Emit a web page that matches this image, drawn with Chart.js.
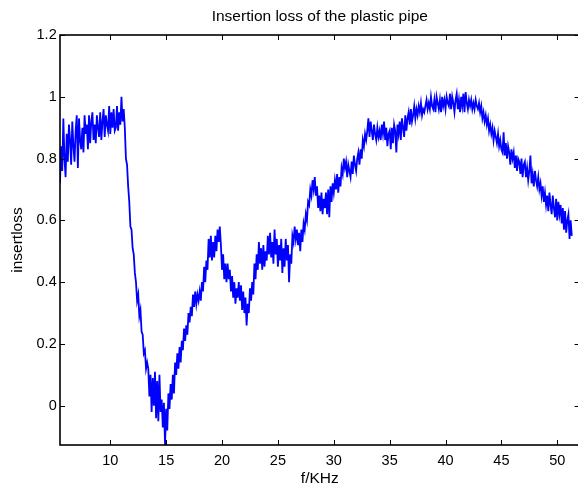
<!DOCTYPE html>
<html>
<head>
<meta charset="utf-8">
<title>Insertion loss of the plastic pipe</title>
<script src="https://cdn.jsdelivr.net/npm/chart.js@4/dist/chart.umd.min.js"></script>
<style>
    html, body { margin: 0; padding: 0; overflow: hidden; background: #fff; }
    #wrap { width: 582px; height: 488px; }
</style>
</head>
<body>
<div id="wrap"><canvas id="loss-chart"></canvas></div>
<script>
// sampled every 0.1 kHz starting at 5.5 kHz
const fStart = 5.5;
const fStep = 0.1;

const loss05to10 = [
    0.72, 0.84, 0.76, 0.93, 0.80, 0.74, 0.88, 0.79, 0.91, 0.86,
    0.78, 0.92, 0.84, 0.79, 0.89, 0.94, 0.77, 0.93, 0.86, 0.83,
    0.90, 0.82, 0.94, 0.88, 0.91, 0.83, 0.94, 0.85, 0.92, 0.95,
    0.86, 0.91, 0.85, 0.94, 0.90, 0.87, 0.95, 0.86, 0.92, 0.96,
    0.87, 0.94, 0.91, 0.89, 0.97, 0.88, 0.95, 0.90, 0.96, 0.89
];
const loss10to15 = [
    0.90, 0.97, 0.89, 0.95, 0.91, 1.00, 0.92, 0.96, 0.90, 0.80,
    0.78, 0.71, 0.66, 0.58, 0.57, 0.51, 0.49, 0.43, 0.40, 0.34,
    0.36, 0.29, 0.31, 0.24, 0.23, 0.17, 0.18, 0.12, 0.14, 0.12,
    0.03, 0.10, -0.02, 0.09, 0.00, 0.11, -0.04, 0.08, -0.05, 0.10,
    -0.02, 0.02, -0.07, 0.01, -0.127, -0.01, -0.08, 0.04, -0.01, 0.07
];
const loss15to20 = [
    0.02, 0.10, 0.04, 0.14, 0.10, 0.17, 0.12, 0.19, 0.14, 0.21,
    0.18, 0.25, 0.21, 0.26, 0.23, 0.30, 0.27, 0.32, 0.29, 0.36,
    0.32, 0.37, 0.33, 0.36, 0.34, 0.37, 0.34, 0.40, 0.37, 0.45,
    0.40, 0.47, 0.44, 0.54, 0.48, 0.55, 0.47, 0.53, 0.48, 0.55,
    0.50, 0.57, 0.53, 0.58, 0.52, 0.44, 0.49, 0.41, 0.46, 0.40
];
const loss20to25 = [
    0.46, 0.41, 0.44, 0.37, 0.42, 0.35, 0.40, 0.33, 0.38, 0.35,
    0.40, 0.34, 0.39, 0.31, 0.37, 0.30, 0.35, 0.26, 0.33, 0.30,
    0.38, 0.34, 0.40, 0.36, 0.46, 0.41, 0.49, 0.44, 0.53, 0.46,
    0.51, 0.44, 0.52, 0.45, 0.50, 0.47, 0.55, 0.49, 0.56, 0.48,
    0.53, 0.46, 0.57, 0.49, 0.54, 0.45, 0.52, 0.47, 0.54, 0.43
];
const loss25to30 = [
    0.51, 0.45, 0.54, 0.47, 0.52, 0.40, 0.49, 0.46, 0.55, 0.53,
    0.58, 0.54, 0.57, 0.52, 0.56, 0.50, 0.57, 0.53, 0.59, 0.57,
    0.62, 0.60, 0.66, 0.65, 0.70, 0.68, 0.73, 0.70, 0.74, 0.68,
    0.71, 0.64, 0.68, 0.63, 0.69, 0.62, 0.67, 0.64, 0.69, 0.62,
    0.70, 0.61, 0.71, 0.66, 0.72, 0.69, 0.73, 0.70, 0.75, 0.69
];
const loss30to35 = [
    0.74, 0.71, 0.77, 0.75, 0.80, 0.77, 0.79, 0.74, 0.78, 0.76,
    0.74, 0.79, 0.75, 0.81, 0.78, 0.76, 0.80, 0.82, 0.78, 0.83,
    0.80, 0.86, 0.84, 0.88, 0.86, 0.89, 0.93, 0.87, 0.92, 0.89,
    0.86, 0.91, 0.88, 0.86, 0.90, 0.87, 0.89, 0.86, 0.91, 0.88,
    0.92, 0.86, 0.90, 0.84, 0.88, 0.89, 0.83, 0.90, 0.85, 0.91
];
const loss35to40 = [
    0.89, 0.82, 0.91, 0.88, 0.92, 0.86, 0.93, 0.90, 0.87, 0.94,
    0.89, 0.93, 0.95, 0.91, 0.96, 0.92, 0.94, 0.97, 0.93, 0.96,
    0.94, 0.97, 0.95, 0.98, 0.94, 0.96, 0.95, 0.97, 0.99, 0.96,
    0.98, 0.96, 1.00, 0.97, 0.96, 0.99, 0.95, 1.00, 0.98, 0.96,
    0.99, 0.95, 1.00, 0.97, 0.99, 0.96, 1.00, 0.98, 0.97, 1.01
];
const loss40to45 = [
    0.96, 1.00, 0.98, 0.95, 0.99, 1.01, 0.96, 0.99, 0.95, 1.00,
    0.97, 1.01, 0.95, 1.015, 0.98, 0.96, 0.99, 0.97, 0.99, 0.96,
    0.98, 0.96, 0.99, 0.97, 0.96, 0.98, 0.95, 0.97, 0.93, 0.95,
    0.92, 0.94, 0.91, 0.93, 0.89, 0.91, 0.88, 0.90, 0.86, 0.89,
    0.87, 0.85, 0.88, 0.84, 0.86, 0.83, 0.82, 0.885, 0.81, 0.85
];
const loss45to50 = [
    0.80, 0.84, 0.82, 0.78, 0.83, 0.80, 0.82, 0.77, 0.81, 0.76,
    0.80, 0.79, 0.75, 0.80, 0.74, 0.78, 0.79, 0.74, 0.77, 0.73,
    0.76, 0.81, 0.72, 0.75, 0.71, 0.76, 0.73, 0.71, 0.74, 0.70,
    0.72, 0.68, 0.71, 0.66, 0.69, 0.65, 0.68, 0.63, 0.69, 0.65,
    0.62, 0.68, 0.64, 0.61, 0.67, 0.60, 0.66, 0.62, 0.65, 0.59
];
const loss50to51 = [0.64, 0.57, 0.63, 0.56, 0.60, 0.62, 0.54, 0.60, 0.55];

const xTicks = [10, 15, 20, 25, 30, 35, 40, 45, 50];
const yTicks = [0, 0.2, 0.4, 0.6, 0.8, 1, 1.2];

const insertLoss = [].concat(loss05to10, loss10to15, loss15to20, loss20to25, loss25to30,
    loss30to35, loss35to40, loss40to45, loss45to50, loss50to51);
const freq = insertLoss.map((_, i) => +(fStart + i * fStep).toFixed(2));

const FONT = 'Liberation Sans, Arial, Helvetica, sans-serif';
Chart.defaults.font.family = FONT;
Chart.defaults.font.size = 14.5;
Chart.defaults.color = '#000';

// matlab style box with inward ticks on all four sides
const boxPlugin = {
    id: 'boxPlugin',
    afterDraw(chart) {
        const { ctx, chartArea: a } = chart;
        const x = chart.scales.x;
        const y = chart.scales.y;
        ctx.save();
        ctx.strokeStyle = '#000';
        ctx.lineWidth = 1;
        ctx.beginPath();
        xTicks.forEach(v => {
            const px = Math.round(x.getPixelForValue(v)) + 0.5;
            ctx.moveTo(px, a.bottom);
            ctx.lineTo(px, a.bottom - 5);
            ctx.moveTo(px, a.top);
            ctx.lineTo(px, a.top + 5);
        });
        yTicks.forEach(v => {
            const py = Math.round(y.getPixelForValue(v)) + 0.5;
            ctx.moveTo(a.left, py);
            ctx.lineTo(a.left + 5, py);
            ctx.moveTo(a.right, py);
            ctx.lineTo(a.right - 5, py);
        });
        ctx.stroke();
        ctx.lineWidth = 1.6;
        ctx.strokeRect(a.left, a.top, a.right - a.left, a.bottom - a.top);
        ctx.restore();
    }
};

const ctx = document.getElementById('loss-chart').getContext('2d');
const lossChart = new Chart(ctx, {
    type: 'line',
    data: {
        datasets: [{
            label: 'insertloss',
            data: freq.map((f, i) => ({ x: f, y: insertLoss[i] })),
            borderColor: '#0000ff',
            borderWidth: 1.8,
            pointRadius: 0,
            tension: 0,
            fill: false,
        }]
    },
    options: {
        responsive: true,
        maintainAspectRatio: false,
        animation: false,
        layout: { padding: { right: 2.4 } },
        plugins: {
            legend: { display: false },
            tooltip: { enabled: false },
            title: {
                display: true,
                fullSize: false,
                text: 'Insertion loss of the plastic pipe',
                color: '#000',
                font: { size: 15.5, weight: 'normal' },
                padding: { top: 7.9, bottom: 8.5 },
            }
        },
        scales: {
            x: {
                type: 'linear',
                min: 5.5,
                max: 52,
                afterBuildTicks: s => { s.ticks = xTicks.map(v => ({ value: v })); },
                afterFit: s => { s.height = 43; },
                grid: { display: false, drawTicks: false },
                border: { display: false },
                ticks: { padding: 7, maxRotation: 0, autoSkip: false, callback: v => String(v) },
                title: { display: true, text: 'f/KHz', font: { size: 15.5 }, padding: { top: 0, bottom: 0 } },
            },
            y: {
                min: -0.127,
                max: 1.2,
                afterBuildTicks: s => { s.ticks = yTicks.map(v => ({ value: v })); },
                afterFit: s => { s.width = 60; },
                grid: { display: false, drawTicks: false },
                border: { display: false },
                ticks: { padding: 3.3, autoSkip: false, callback: v => String(Math.round(v * 10) / 10) },
                title: { display: true, text: 'insertloss', font: { size: 15.5 }, padding: { top: 8.2, bottom: 0 } },
            }
        }
    },
    plugins: [boxPlugin]
});
</script>
</body>
</html>
